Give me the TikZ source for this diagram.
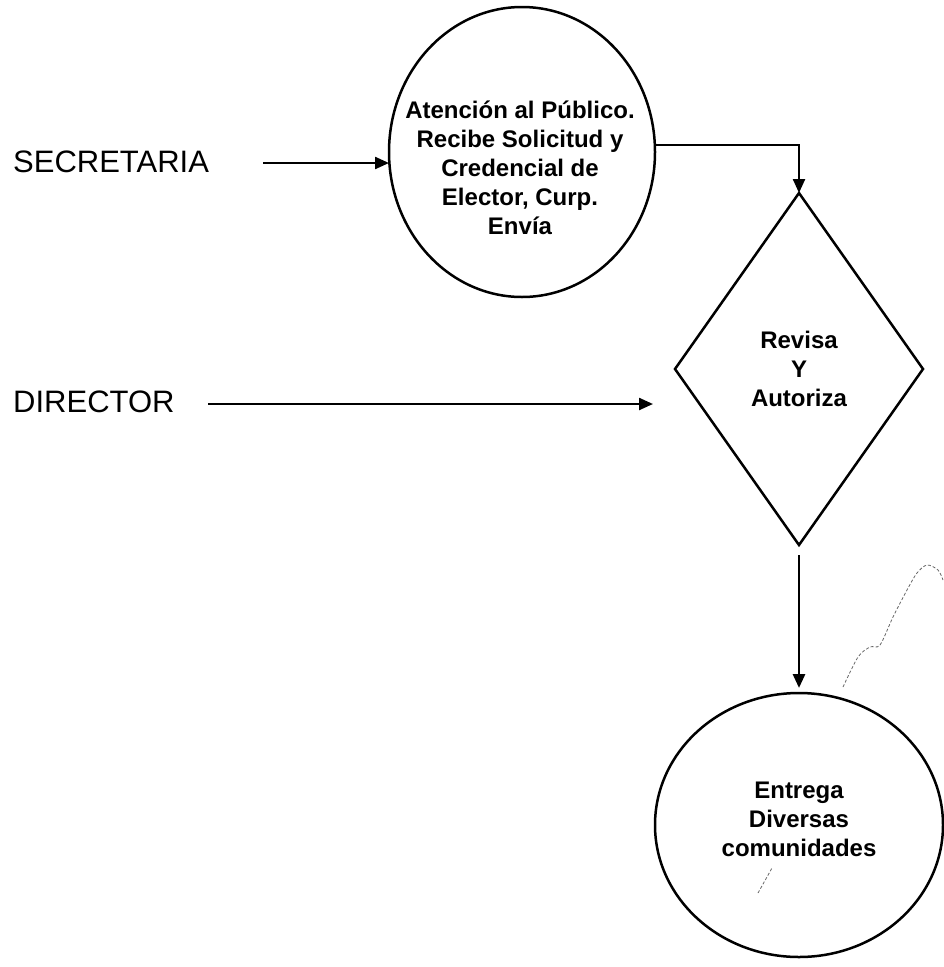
\documentclass[tikz,border=0pt]{standalone}
\usepackage{fontspec}
\setmainfont{Liberation Sans}
\usetikzlibrary{shapes.geometric,arrows.meta}
\begin{document}
\begin{tikzpicture}[x=1pt,y=-1pt,
  shapeline/.style={draw=black,line width=2.5pt,inner sep=0pt,outer sep=0pt},
  procnode/.style={shapeline,ellipse},
  decnode/.style={shapeline,diamond},
  roletext/.style={font=\fontsize{31}{37}\selectfont,anchor=west,inner sep=0pt},
  boxtext/.style={font=\bfseries\fontsize{24}{29}\selectfont,align=center,inner sep=0pt},
  flow/.style={line width=2.3pt,-{Triangle[length=14pt,width=12pt]}},
  smudge/.style={black!60,line width=0.8pt,densely dashed}
]
\useasboundingbox (0,0) rectangle (944,967);

% roles
\node[roletext] (secretaria) at (13,162) {SECRETARIA};
\node[roletext] (director) at (13,402) {DIRECTOR};

% process steps
\node[procnode,minimum width=266pt,minimum height=290pt] (atencion) at (522,152) {};
\node[boxtext] (atencionText) at (520,168)
  {Atención al Público.\\Recibe Solicitud y\\Credencial de\\Elector, Curp.\\Envía};

\node[decnode,minimum width=248pt,minimum height=352pt] (decision) at (799,369) {};
\node[boxtext] (decisionText) at (799,369) {Revisa\\Y\\Autoriza};

\node[procnode,minimum width=288pt,minimum height=264pt] (entrega) at (799,825) {};
\node[boxtext] (entregaText) at (799,819) {Entrega\\Diversas\\comunidades};

% connectors
\coordinate (secStart) at (263,163);
\draw[flow] (secStart) -- (secStart -| atencion.west);

\draw[flow] (atencion.3) -| (decision.north);

\coordinate (dirStart) at (208,404);
\coordinate (dirEnd) at (653,404);
\draw[flow] (dirStart) -- (dirEnd);

\draw[flow,line width=2.8pt] ([yshift=-10pt]decision.south) -- ([yshift=5pt]entrega.north);

% faint pencil marks
\draw[smudge] plot[smooth] coordinates {(843,687) (858,657) (870,647) (880,645) (893,617) (907,590) (917,573) (927,565) (938,570) (943,580)};
\draw[smudge] (758,893) -- (772,868);
\end{tikzpicture}
\end{document}
